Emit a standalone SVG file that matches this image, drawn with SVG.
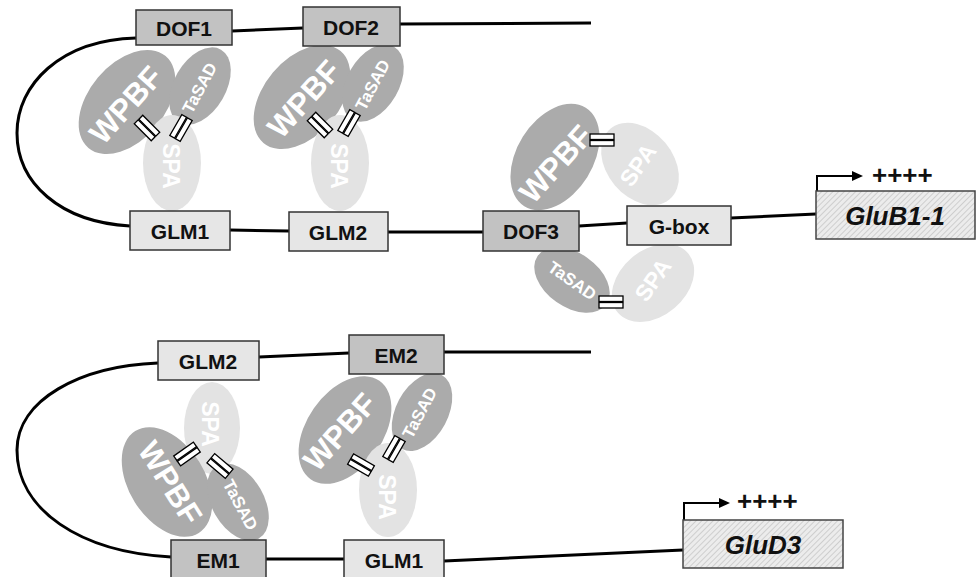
<svg xmlns="http://www.w3.org/2000/svg" xmlns:xlink="http://www.w3.org/1999/xlink" width="977" height="577" viewBox="0 0 977 577">
<style>
.bd{fill:#c2c2c2;stroke:#333;stroke-width:1.5}
.bl{fill:#e6e6e6;stroke:#333;stroke-width:1.5}
.bh{fill:url(#hatch);stroke:#444;stroke-width:1.5}
.bt{font-family:"Liberation Sans",Arial,sans-serif;font-weight:bold;font-size:21px;fill:#111;text-anchor:middle;dominant-baseline:central}
.gt{font-family:"Liberation Sans",Arial,sans-serif;font-weight:bold;font-style:italic;font-size:26px;fill:#111;text-anchor:middle;dominant-baseline:central}
.pl{font-family:"Liberation Sans",Arial,sans-serif;font-weight:bold;font-size:26px;fill:#111;dominant-baseline:central}
.pd{fill:#ababab}
.ps{fill:#e3e3e3}
.tw{font-family:"Liberation Sans",Arial,sans-serif;font-weight:bold;font-size:31px;fill:#fff;text-anchor:middle;dominant-baseline:central}
.tt{font-family:"Liberation Sans",Arial,sans-serif;font-weight:bold;font-size:17px;fill:#fff;text-anchor:middle;dominant-baseline:central}
.ts{font-family:"Liberation Sans",Arial,sans-serif;font-weight:bold;font-size:23px;fill:#fff;text-anchor:middle;dominant-baseline:central}
.ln{fill:none;stroke:#000;stroke-width:3}
.ar{fill:none;stroke:#000;stroke-width:2;marker-end:url(#ah)}
</style>
<defs>
<pattern id="hatch" width="4" height="4" patternUnits="userSpaceOnUse" patternTransform="rotate(45)">
<rect width="4" height="4" fill="#ececec"/>
<line x1="0" y1="0" x2="0" y2="4" stroke="#b0b0b0" stroke-width="1"/>
</pattern>
<marker id="ah" markerWidth="11" markerHeight="10" refX="8" refY="5" orient="auto" markerUnits="userSpaceOnUse">
<path d="M0,0 L11,5 L0,10 Z" fill="#000"/>
</marker>
<g id="dbar">
<rect x="-12" y="-6" width="24" height="5.5" fill="#fff" stroke="#000" stroke-width="1.3"/>
<rect x="-12" y="0.5" width="24" height="5.5" fill="#fff" stroke="#000" stroke-width="1.3"/>
</g>
</defs>
<rect width="977" height="577" fill="#fff"/>

<g id="connectors">
<path class="ln" d="M232,31 L303,28"/>
<path class="ln" d="M400,24 L591,23"/>
<path class="ln" d="M136,38 C60,40 17,85 17,133 C17,183 60,222 130,226"/>
<path class="ln" d="M230,230 L289,231"/>
<path class="ln" d="M388,232 L483,232"/>
<path class="ln" d="M579,226 L627,223"/>
<path class="ln" d="M731,218 L816,214"/>
<path class="ln" d="M259,357 L349,353"/>
<path class="ln" d="M444,352 L591,352"/>
<path class="ln" d="M158,363 C80,366 17,400 17,450 C17,510 80,552 171,557"/>
<path class="ln" d="M266,559 L344,559"/>
<path class="ln" d="M444,561 L683,550"/>
<path class="ar" d="M817,191 V176 H860"/>
<path class="ar" d="M684,520 V503 H727"/>
</g>

<g id="complex1">
<ellipse class="pd" cx="127" cy="102" rx="60" ry="38" transform="rotate(-50 127 102)"/>
<text class="tw" x="126" y="105" transform="rotate(-48 126 105)">WPBF</text>
<ellipse class="pd" cx="200" cy="86" rx="42" ry="26" transform="rotate(-60 200 86)"/>
<text class="tt" x="200" y="88" transform="rotate(-62 200 88)">TaSAD</text>
<ellipse class="ps" cx="172" cy="163" rx="29" ry="48"/>
<text class="ts" x="171" y="166" transform="rotate(90 171 166)">SPA</text>
<use xlink:href="#dbar" transform="translate(147,128) rotate(45)"/>
<use xlink:href="#dbar" transform="translate(181,128) rotate(-60)"/>
</g>

<g id="complex2">
<ellipse class="pd" cx="302" cy="97" rx="60" ry="38" transform="rotate(-50 302 97)"/>
<text class="tw" x="304" y="99" transform="rotate(-48 304 99)">WPBF</text>
<ellipse class="pd" cx="373" cy="83" rx="42" ry="26" transform="rotate(-60 373 83)"/>
<text class="tt" x="373" y="85" transform="rotate(-62 373 85)">TaSAD</text>
<ellipse class="ps" cx="340" cy="163" rx="29" ry="48"/>
<text class="ts" x="339" y="166" transform="rotate(90 339 166)">SPA</text>
<use xlink:href="#dbar" transform="translate(320,125) rotate(45)"/>
<use xlink:href="#dbar" transform="translate(349,123) rotate(-60)"/>
</g>

<g id="complex3">
<ellipse class="ps" cx="640" cy="164" rx="46" ry="33" transform="rotate(50 640 164)"/>
<text class="ts" x="638" y="165" transform="rotate(-55 638 165)">SPA</text>
<ellipse class="pd" cx="555" cy="157" rx="58" ry="38" transform="rotate(-58 555 157)"/>
<text class="tw" x="556" y="164" transform="rotate(-48 556 164)">WPBF</text>
<use xlink:href="#dbar" transform="translate(602,140)"/>
<ellipse class="ps" cx="653" cy="283" rx="46" ry="33" transform="rotate(-40 653 283)"/>
<text class="ts" x="653" y="280" transform="rotate(-55 653 280)">SPA</text>
<ellipse class="pd" cx="572" cy="280" rx="42" ry="27" transform="rotate(35 572 280)"/>
<text class="tt" x="572" y="281" transform="rotate(35 572 281)">TaSAD</text>
<use xlink:href="#dbar" transform="translate(611,302)"/>
</g>

<g id="complex4">
<ellipse class="ps" cx="212" cy="428" rx="28" ry="46"/>
<text class="ts" x="210" y="424" transform="rotate(90 210 424)">SPA</text>
<ellipse class="pd" cx="167" cy="482" rx="60" ry="38" transform="rotate(58 167 482)"/>
<text class="tw" x="170" y="483" transform="rotate(58 170 483)">WPBF</text>
<ellipse class="pd" cx="238" cy="502" rx="42" ry="26" transform="rotate(60 238 502)"/>
<text class="tt" x="240" y="505" transform="rotate(62 240 505)">TaSAD</text>
<use xlink:href="#dbar" transform="translate(187,454) rotate(-35)"/>
<use xlink:href="#dbar" transform="translate(220,466) rotate(40)"/>
</g>

<g id="complex5">
<ellipse class="pd" cx="345" cy="430" rx="60" ry="38" transform="rotate(-55 345 430)"/>
<text class="tw" x="340" y="432" transform="rotate(-48 340 432)">WPBF</text>
<ellipse class="pd" cx="422" cy="412" rx="42" ry="26" transform="rotate(-62 422 412)"/>
<text class="tt" x="420" y="413" transform="rotate(-62 420 413)">TaSAD</text>
<ellipse class="ps" cx="388" cy="490" rx="29" ry="47"/>
<text class="ts" x="387" y="497" transform="rotate(90 387 497)">SPA</text>
<use xlink:href="#dbar" transform="translate(361,465) rotate(30)"/>
<use xlink:href="#dbar" transform="translate(394,449) rotate(-60)"/>
</g>

<g id="DOF1"><rect class="bd" x="136" y="10" width="96" height="35"/><text class="bt" x="184" y="28">DOF1</text></g>
<g id="DOF2"><rect class="bd" x="303" y="7" width="97" height="39"/><text class="bt" x="351" y="27">DOF2</text></g>
<g id="GLM1-top"><rect class="bl" x="130" y="211" width="100" height="39"/><text class="bt" x="180" y="231">GLM1</text></g>
<g id="GLM2-top"><rect class="bl" x="289" y="212" width="99" height="39"/><text class="bt" x="338" y="232">GLM2</text></g>
<g id="DOF3"><rect class="bd" x="483" y="211" width="96" height="40"/><text class="bt" x="531" y="231">DOF3</text></g>
<g id="G-box"><rect class="bl" x="627" y="206" width="104" height="39"/><text class="bt" x="679" y="226">G-box</text></g>
<g id="GluB1-1"><rect class="bh" x="816" y="191" width="159" height="48"/><text class="gt" x="895" y="216">GluB1-1</text><text class="pl" x="872" y="175">++++</text></g>

<g id="GLM2-bottom"><rect class="bl" x="158" y="341" width="101" height="39"/><text class="bt" x="208" y="361">GLM2</text></g>
<g id="EM2"><rect class="bd" x="349" y="335" width="95" height="39"/><text class="bt" x="396" y="355">EM2</text></g>
<g id="EM1"><rect class="bd" x="171" y="540" width="95" height="42"/><text class="bt" x="218" y="560">EM1</text></g>
<g id="GLM1-bottom"><rect class="bl" x="344" y="540" width="100" height="42"/><text class="bt" x="394" y="560">GLM1</text></g>
<g id="GluD3"><rect class="bh" x="683" y="520" width="160" height="48"/><text class="gt" x="763" y="545">GluD3</text><text class="pl" x="737" y="501">++++</text></g>
</svg>
